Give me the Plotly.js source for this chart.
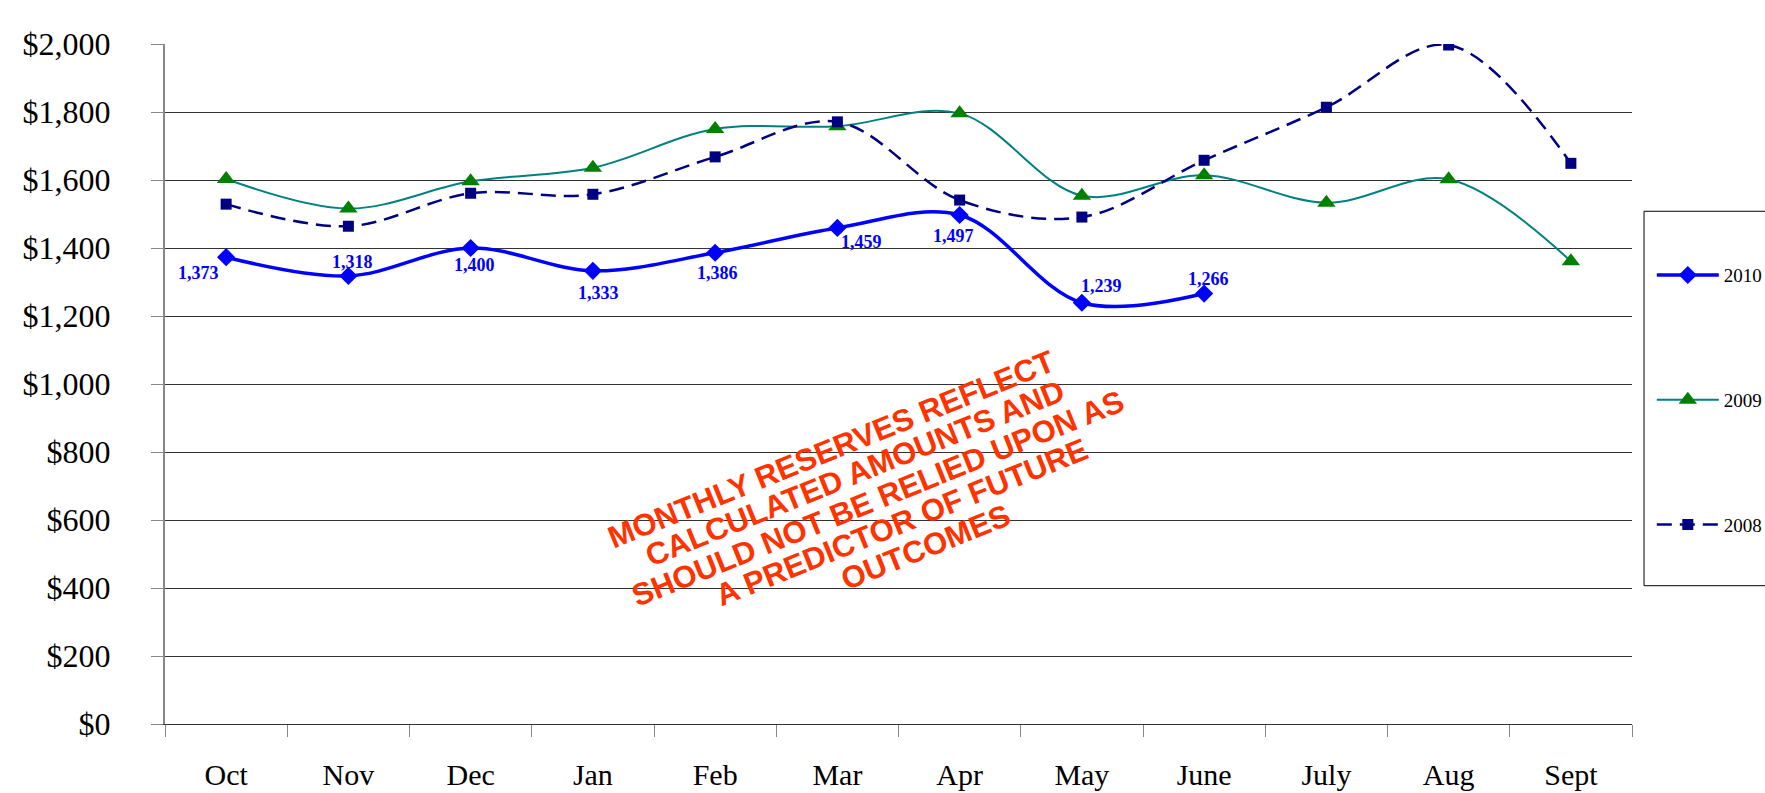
<!DOCTYPE html>
<html>
<head>
<meta charset="utf-8">
<script src="https://cdn.plot.ly/plotly-3.0.1.min.js"></script>
<style>
html,body{margin:0;padding:0;background:#fff;}
#chart{width:1765px;height:793px;}
</style>
</head>
<body>
<div id="chart"></div>
<script>
// ---- data ----
const months = ["Oct","Nov","Dec","Jan","Feb","Mar","Apr","May","June","July","Aug","Sept"];
const values2010 = [1373,1318,1400,1333,1386,1459,1497,1239,1266];
const values2009 = [1603,1516,1596,1636,1750,1758,1796,1554,1614,1533,1602,1361];
const values2008 = [1529,1464,1561,1558,1668,1771,1541,1491,1658,1814,1997,1649];
const yTickVals = [0,200,400,600,800,1000,1200,1400,1600,1800,2000];
const yTickText = ["$0","$200","$400","$600","$800","$1,000","$1,200","$1,400","$1,600","$1,800","$2,000"];
const watermarkLines = [
  "MONTHLY RESERVES REFLECT",
  "CALCULATED AMOUNTS AND",
  "SHOULD NOT BE RELIED UPON AS",
  "A PREDICTOR OF FUTURE",
  "OUTCOMES"
];

// label offsets (style only, px)
const labelDX = [-28,4,4,6,2,24,-6,20,4];
const labelDY = [-16,14,-17,-22,-20,-14,-21,17,15];

const fmt = v => v.toLocaleString("en-US");

const traces = [
  {
    name:"2010", x: months.slice(0, values2010.length), y: values2010,
    type:"scatter", mode:"lines+markers", legendgroup:"a",
    line:{color:"#0000FF", width:3.5, shape:"spline", smoothing:1},
    marker:{symbol:"diamond", size:14, color:"#0000FF"}
  },
  {
    name:"2009", x: months, y: values2009,
    type:"scatter", mode:"lines+markers", legendgroup:"b",
    line:{color:"#008080", width:2, shape:"spline", smoothing:1},
    marker:{symbol:"triangle-up", size:16, color:"#008000"}
  },
  {
    name:"2008", x: months, y: values2008,
    type:"scatter", mode:"lines+markers", legendgroup:"c",
    line:{color:"#000080", width:2.5, shape:"spline", smoothing:1, dash:"15px,8px"},
    marker:{symbol:"square", size:11, color:"#000080"}
  }
];

const annotations = values2010.map((v,i)=>({
  x: months[i], y: v, xref:"x", yref:"y", text: fmt(v), showarrow:false,
  xshift: labelDX[i], yshift: labelDY[i],
  font:{family:"Liberation Serif", size:18, color:"#0000FF", weight:"bold"}
}));

// watermark: one annotation per line, each line offset from the previous one
watermarkLines.forEach((t,k)=>{
  annotations.push({
    x:0.454, y:0.404, xref:"paper", yref:"paper", text:t, showarrow:false,
    textangle:-22, xshift: k*23.5, yshift: -k*24.5,
    font:{family:"Liberation Sans", size:31, color:"#FF3300", weight:"bold"}
  });
});

const layout = {
  width:1765, height:793,
  paper_bgcolor:"#fff", plot_bgcolor:"#fff",
  margin:{l:165, r:133, t:44, b:69, autoexpand:false},
  showlegend:true,
  legend:{
    x:1.0135, xanchor:"left", y:0.688, yanchor:"top",
    bgcolor:"rgba(0,0,0,0)", borderwidth:0,
    tracegroupgap:97, itemwidth:62,
    font:{family:"Liberation Serif", size:19, color:"#000"}
  },
  xaxis:{
    type:"category", range:[-0.5,11.5], categoryorder:"array", categoryarray: months,
    showgrid:false, zeroline:false, showline:true, linecolor:"#333", linewidth:1,
    ticks:"outside", tickson:"boundaries", ticklen:12, tickcolor:"#888", tickwidth:1,
    ticklabelstandoff:24, automargin:false,
    tickfont:{family:"Liberation Serif", size:30, color:"#000"}
  },
  yaxis:{
    range:[0,2000], tickvals:yTickVals, ticktext:yTickText,
    showgrid:true, gridcolor:"#333", gridwidth:1, zeroline:false,
    showline:true, linecolor:"#888", linewidth:2,
    ticks:"outside", ticklen:12, tickcolor:"#888", tickwidth:1,
    ticklabelstandoff:34, automargin:false,
    tickfont:{family:"Liberation Serif", size:32, color:"#000"}
  },
  shapes:[{
    type:"rect", xref:"paper", yref:"paper",
    x0:1.0082, x1:1.2, y0:0.2034, y1:0.754,
    line:{color:"#000", width:1}, fillcolor:"rgba(0,0,0,0)"
  }],
  annotations: annotations
};

Plotly.newPlot("chart", traces, layout, {staticPlot:true, displayModeBar:false});
</script>
</body>
</html>
